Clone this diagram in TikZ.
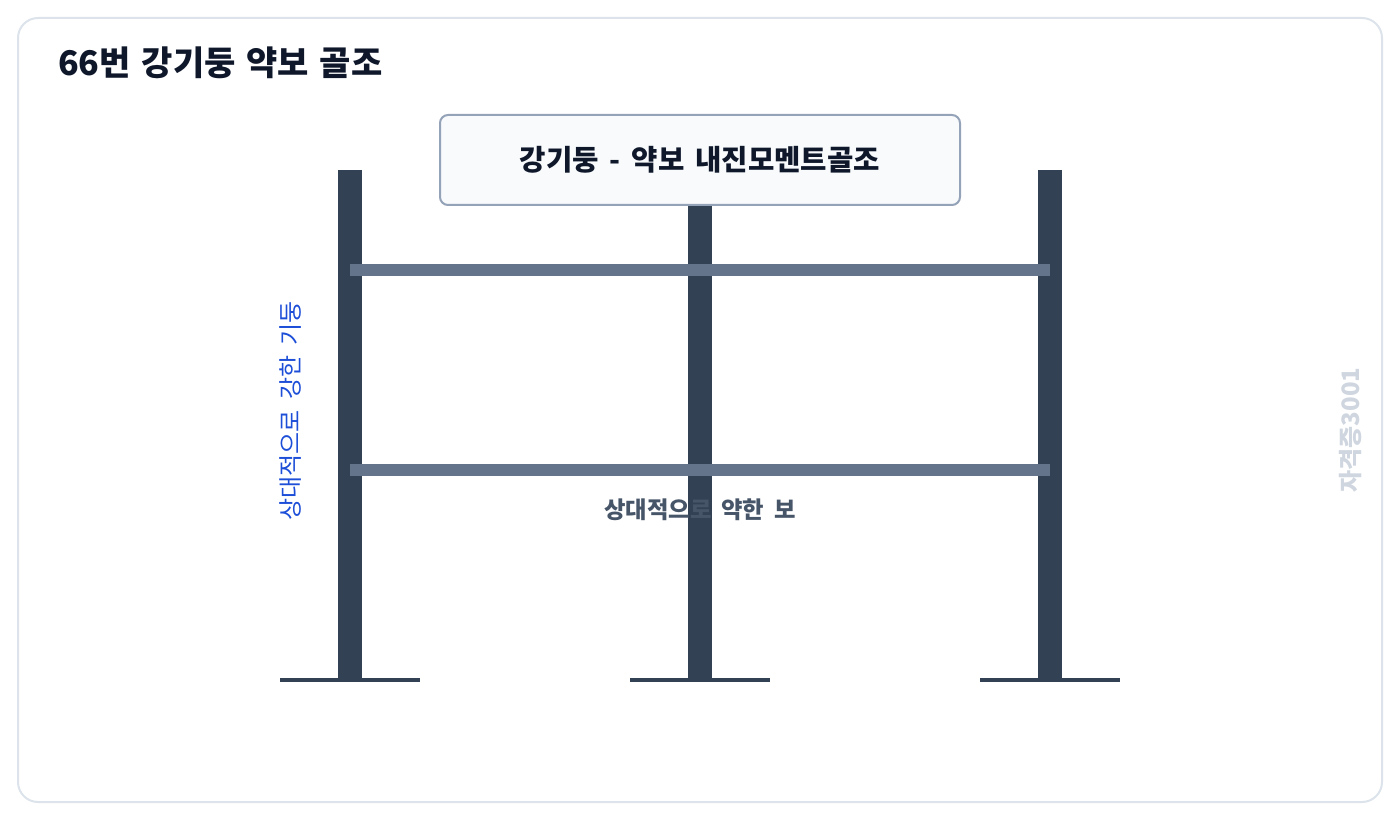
\documentclass[tikz,border=0pt]{standalone}
\usepackage{fontspec}
\setmainfont{Noto Sans CJK KR}
\definecolor{frameline}{HTML}{DCE3EB}
\definecolor{titleink}{HTML}{0F172A}
\definecolor{boxfill}{HTML}{F8FAFC}
\definecolor{boxline}{HTML}{94A3B8}
\definecolor{colfill}{HTML}{334155}
\definecolor{beamfill}{HTML}{64748B}
\definecolor{strongink}{HTML}{1D4ED8}
\definecolor{weakink}{HTML}{475569}
\definecolor{markink}{HTML}{CFD6DF}
\newcommand\widegap{\spaceskip 0.42em\relax}
\newcommand\headgap{\spaceskip 0.38em\relax}
\newcommand\titlegap{\spaceskip 0.32em\relax}
\begin{document}
\begin{tikzpicture}[x=0.75pt,y=-0.75pt,
    column/.style={draw=colfill,line width=18pt},
    beam/.style={draw=beamfill,line width=9pt},
    plate/.style={draw=colfill,line width=3pt},
    headbox/.style={draw=boxline,fill=boxfill,line width=1.5pt,rounded corners=6pt,
      minimum width=390pt,minimum height=67.5pt,
      font=\fontsize{21.5}{25}\selectfont\bfseries\headgap,text=titleink}]
  \useasboundingbox (0,0) rectangle (1400,820);
  \draw[frameline,line width=1.5pt,rounded corners=15pt] (18,18) rectangle (1382,802);
  \node[anchor=west,font=\fontsize{25.5}{30}\selectfont\bfseries\titlegap,text=titleink,inner sep=0pt]
    (title) at (58,63) {66번 강기둥 약보 골조};
  \draw
    (350,170) coordinate (c1t)
    (350,678) coordinate (c1b)
    (700,170) coordinate (c2t)
    (700,678) coordinate (c2b)
    (1050,170) coordinate (c3t)
    (1050,678) coordinate (c3b)
    (280,680) coordinate (p1w)
    (420,680) coordinate (p1e)
    (630,680) coordinate (p2w)
    (770,680) coordinate (p2e)
    (980,680) coordinate (p3w)
    (1120,680) coordinate (p3e)
    (350,270) coordinate (b1w)
    (1050,270) coordinate (b1e)
    (350,470) coordinate (b2w)
    (1050,470) coordinate (b2e);
  \begin{scope}
    \draw[column] (c1t) to (c1b);
    \draw[column] (c2t) to (c2b);
    \draw[column] (c3t) to (c3b);
    \draw[plate] (p1w) to (p1e);
    \draw[plate] (p2w) to (p2e);
    \draw[plate] (p3w) to (p3e);
    \draw[beam] (b1w) to (b1e);
    \draw[beam] (b2w) to (b2e);
  \end{scope}
  \node[headbox] (head) at (700,160) {강기둥 - 약보 내진모멘트골조};
  \node[rotate=90,font=\fontsize{18}{21}\selectfont\widegap,text=strongink] (strong) at (291,411) {상대적으로 강한 기둥};
  \node[font=\fontsize{17.5}{21}\selectfont\bfseries\widegap,text=weakink] (weak) at (700,510) {상대적으로 약한 보};
  \node[rotate=90,font=\fontsize{18}{22}\selectfont\bfseries,text=markink] (mark) at (1351,430) {자격증3001};
\end{tikzpicture}
\end{document}
